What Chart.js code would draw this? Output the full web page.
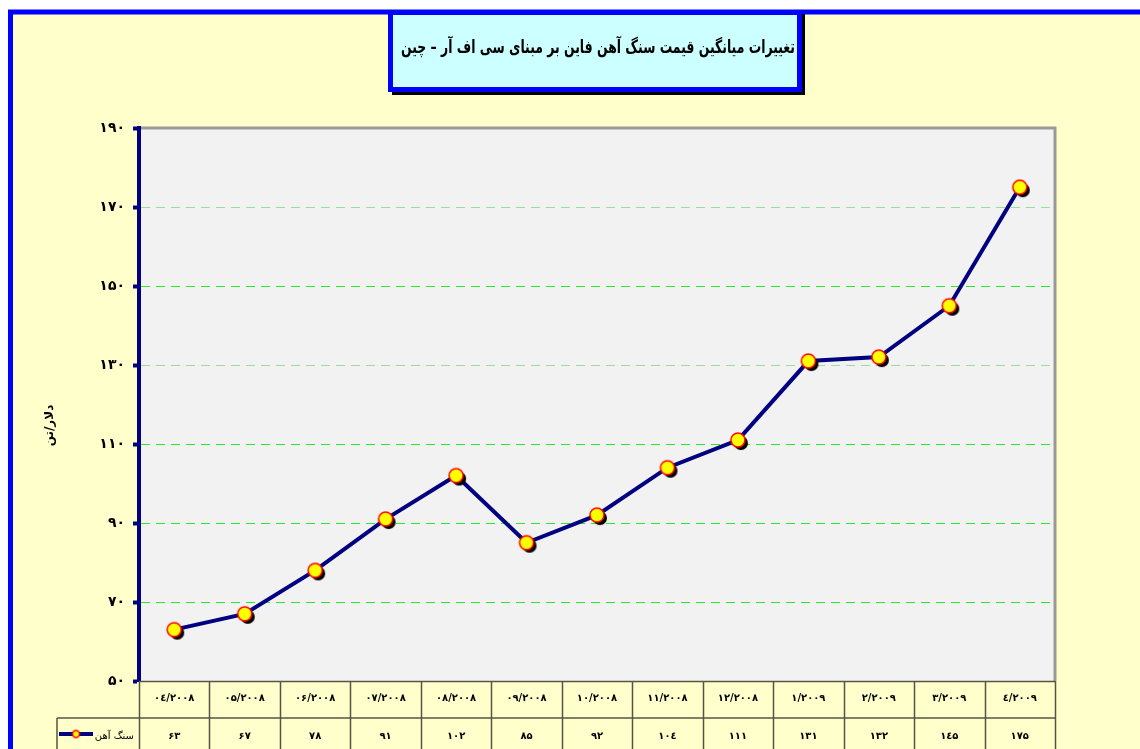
<!DOCTYPE html>
<html lang="fa">
<head>
<meta charset="utf-8">
<title>سنگ آهن</title>
<script src="https://cdn.jsdelivr.net/npm/chart.js@4.4.1/dist/chart.umd.min.js"></script>
<style>
  html, body { margin: 0; padding: 0; background: #fff; }
  #wrap { width: 1140px; height: 749px; }
</style>
</head>
<body>
<div id="wrap"><canvas id="ironChart" width="1140" height="749"></canvas></div>
<script>
const chartTitle = 'تغییرات میانگین قیمت سنگ آهن فاین بر مبنای سی اف آر – چین';
const yAxisTitle = 'دلار/تن';
const seriesName = 'سنگ آهن';
const months = ['۰٤/۲۰۰۸', '۰۵/۲۰۰۸', '۰۶/۲۰۰۸', '۰۷/۲۰۰۸', '۰۸/۲۰۰۸', '۰۹/۲۰۰۸', '۱۰/۲۰۰۸',
                '۱۱/۲۰۰۸', '۱۲/۲۰۰۸', '۱/۲۰۰۹', '۲/۲۰۰۹', '۳/۲۰۰۹', '٤/۲۰۰۹'];
const prices = [63, 67, 78, 91, 102, 85, 92, 104, 111, 131, 132, 145, 175];
const yMin = 50, yMax = 190, yStep = 20;

const FONT = 'DejaVu Sans';
const faDigits = '۰۱۲۳٤۵۶۷۸۹';
function toFa(n) {
    return String(n).replace(/[0-9]/g, d => faDigits[d]);
}

// yellow marker with a black drop shadow
function makeMarker(r, shadow) {
    const size = Math.ceil((r + shadow + 2) * 2);
    const c = document.createElement('canvas');
    c.width = size; c.height = size;
    const g = c.getContext('2d');
    const m = size / 2;
    if (shadow) {
        g.fillStyle = '#000';
        g.beginPath(); g.arc(m + shadow, m + shadow, r, 0, Math.PI * 2); g.fill();
    }
    g.fillStyle = '#ffff00';
    g.strokeStyle = '#ff0000';
    g.lineWidth = 1.5;
    g.beginPath(); g.arc(m, m, r, 0, Math.PI * 2); g.fill(); g.stroke();
    return c;
}
const pointImg = makeMarker(7, 3);
const legendImg = makeMarker(3.5, 0);

const framePlugin = {
    id: 'frame',
    beforeDraw(chart) {
        const { ctx, chartArea: a } = chart;
        ctx.save();
        ctx.fillStyle = '#ffffff';
        ctx.fillRect(0, 0, chart.width, chart.height);
        ctx.fillStyle = '#ffffcc';
        ctx.fillRect(10, 10, chart.width, chart.height);
        ctx.strokeStyle = '#0000ff';
        ctx.lineWidth = 5;
        ctx.beginPath();
        ctx.moveTo(10.5, chart.height + 10);
        ctx.lineTo(10.5, 12);
        ctx.lineTo(chart.width + 10, 12);
        ctx.stroke();
        // plot area
        ctx.fillStyle = '#f2f2f2';
        ctx.fillRect(a.left, a.top, a.right - a.left, a.bottom - a.top);
        ctx.strokeStyle = '#999999';
        ctx.lineWidth = 3;
        ctx.beginPath();
        ctx.moveTo(a.left, a.top);
        ctx.lineTo(a.right, a.top);
        ctx.lineTo(a.right, a.bottom);
        ctx.stroke();
        ctx.restore();
    },
    afterDraw(chart) {
        const { ctx, chartArea: a } = chart;
        const x = chart.scales.x;
        const y = chart.scales.y;
        ctx.save();

        // title box
        ctx.fillStyle = '#000';
        ctx.fillRect(392, 14, 413, 81);
        ctx.fillStyle = '#ccffff';
        ctx.fillRect(390.5, 12.5, 409, 77);
        ctx.strokeStyle = '#0000ff';
        ctx.lineWidth = 5;
        ctx.strokeRect(390.5, 12.5, 409, 77);
        ctx.fillStyle = '#000';
        ctx.font = 'bold 18px "' + FONT + '"';
        ctx.textAlign = 'center';
        ctx.textBaseline = 'middle';
        ctx.fillText(chartTitle, 598, 48, 394);

        // y axis title
        ctx.save();
        ctx.translate(50, (y.top + y.bottom) / 2 + 21);
        ctx.rotate(-Math.PI / 2);
        ctx.font = 'bold 12px "' + FONT + '"';
        ctx.fillText(yAxisTitle, 0, 0);
        ctx.restore();

        // data table
        const n = months.length;
        const colW = (x.right - x.left) / n;
        const row1 = a.bottom, row2 = a.bottom + 37, rowEnd = chart.height + 5;
        ctx.strokeStyle = '#555544';
        ctx.lineWidth = 1.5;
        ctx.beginPath();
        ctx.moveTo(x.left, row1 + 0.5); ctx.lineTo(x.right, row1 + 0.5);
        ctx.moveTo(57, row2); ctx.lineTo(x.right, row2);
        ctx.moveTo(57, row2); ctx.lineTo(57, rowEnd);
        for (let i = 0; i <= n; i++) {
            const bx = Math.round(x.left + i * colW) + 0.5;
            ctx.moveTo(bx, row1); ctx.lineTo(bx, rowEnd);
        }
        ctx.stroke();

        ctx.fillStyle = '#000';
        ctx.font = 'bold 10px "' + FONT + '"';
        ctx.textAlign = 'center';
        ctx.textBaseline = 'middle';
        months.forEach((m, i) => {
            const cx = x.getPixelForValue(i);
            ctx.fillText(m, cx, row1 + 17);
            ctx.fillText(toFa(prices[i]), cx, row2 + 18);
        });

        // legend key
        const ds = chart.data.datasets[0];
        ctx.strokeStyle = ds.borderColor;
        ctx.lineWidth = 4;
        ctx.beginPath();
        ctx.moveTo(59, row2 + 16); ctx.lineTo(93, row2 + 16);
        ctx.stroke();
        ctx.drawImage(legendImg, 76 - legendImg.width / 2, row2 + 16 - legendImg.height / 2);
        ctx.font = '10px "' + FONT + '"';
        ctx.textAlign = 'right';
        ctx.fillText(seriesName, 134, row2 + 18);
        ctx.restore();
    }
};

const ctx = document.getElementById('ironChart').getContext('2d');

const ironChart = new Chart(ctx, {
    type: 'line',
    data: {
        labels: months,
        datasets: [{
            label: seriesName,
            data: prices,
            borderColor: '#000080',
            borderWidth: 4,
            tension: 0,
            fill: false,
            pointStyle: pointImg,
            pointRadius: 7,
            clip: false
        }]
    },
    options: {
        responsive: false,
        animation: false,
        devicePixelRatio: 1,
        layout: { padding: { top: 128, right: 85, bottom: 68, left: 0 } },
        plugins: {
            legend: { display: false },
            tooltip: { enabled: false }
        },
        scales: {
            x: {
                type: 'category',
                offset: true,
                display: false
            },
            y: {
                min: yMin,
                max: yMax,
                afterFit: s => { s.width = 139; },
                ticks: {
                    stepSize: yStep,
                    color: '#000',
                    padding: 8,
                    font: { family: FONT, size: 14, weight: 'bold' },
                    callback: v => toFa(v)
                },
                grid: {
                    color: c => {
                        const v = c.tick && c.tick.value;
                        if (v === yMin || v === yMax) return 'rgba(0,0,0,0)';
                        return (v === 170 || v === 130) ? '#99dd99' : '#22ee22';
                    },
                    lineWidth: 1,
                    tickColor: '#000080',
                    tickWidth: 4,
                    tickLength: 6
                },
                border: {
                    color: '#000080',
                    width: 4,
                    dash: [9, 6]
                }
            }
        }
    },
    plugins: [framePlugin]
});
</script>
</body>
</html>
